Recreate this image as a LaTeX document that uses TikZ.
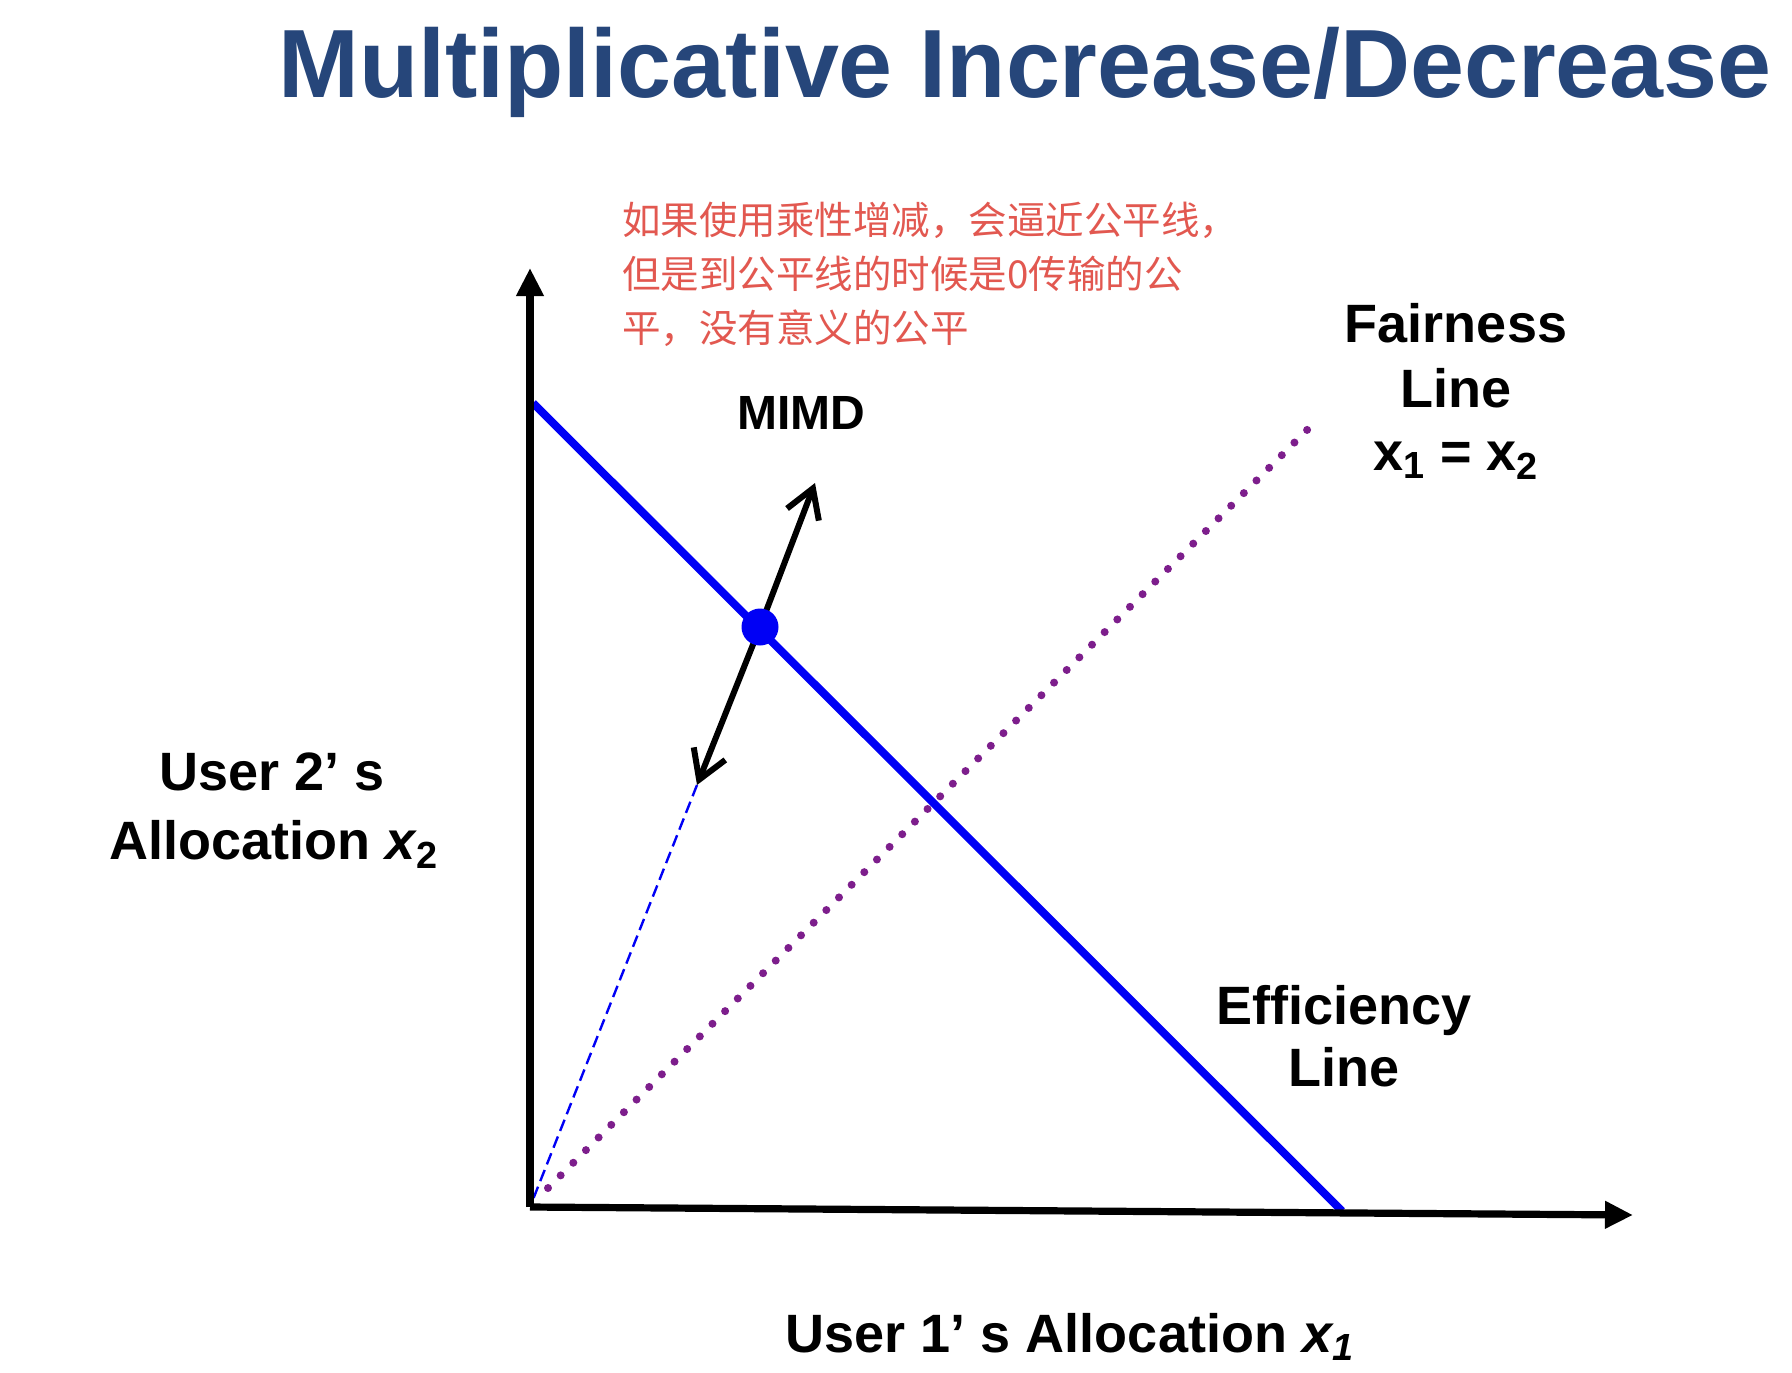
\documentclass[tikz,border=0pt]{standalone}
\usepackage{fontspec}
\setmainfont{Liberation Sans}
\newfontfamily\cjk{Noto Sans CJK SC}
\usetikzlibrary{arrows.meta}
\definecolor{titleblue}{RGB}{38,70,122}
\definecolor{notered}{RGB}{226,88,80}
\definecolor{fairpurple}{RGB}{125,30,140}
\definecolor{effblue}{RGB}{0,0,245}
\begin{document}
\begin{tikzpicture}[x=0.5pt,y=-0.5pt,
  lbl/.style={font=\fontsize{27pt}{32pt}\selectfont\bfseries, anchor=base, inner sep=0pt},
  note/.style={font=\cjk\fontsize{19.25pt}{27pt}\selectfont, text=notered, anchor=base west, inner sep=0pt},
  axisline/.style={line width=3.6pt, -{Triangle[length=14pt,width=13pt]}},
  effline/.style={line width=4pt, effblue},
  moveline/.style={line width=3pt, black, -{Straight Barb[length=14pt,width=17pt]}},
  pathline/.style={line width=1.2pt, effblue, dash pattern=on 6pt off 3pt},
  fairline/.style={line width=4pt, fairpurple, line cap=round, dash pattern=on 0pt off 8.94pt},
  dotnode/.style={circle, fill=effblue, inner sep=0pt, minimum size=18.5pt}]
\useasboundingbox (0,0) rectangle (1792,1372);
\fill[white] (0,0) rectangle (1792,1372);

% title
\node[anchor=base west, inner sep=0pt, text=titleblue,
  font=\fontsize{48.5pt}{56pt}\selectfont\bfseries] (title) at (278,97)
  {Multiplicative Increase/Decrease};

% note
\node[note] (note1) at (622,234) {如果使用乘性增减，会逼近公平线，};
\node[note] (note2) at (622,288) {但是到公平线的时候是0传输的公};
\node[note] (note3) at (622,342) {平，没有意义的公平};

% coordinates
\coordinate (O) at (530,1207);
\coordinate (ytip) at (530,268);
\coordinate (xtip) at (1633,1215);
\coordinate (effA) at (533,403);
\coordinate (effB) at (1342,1211);
\coordinate (fairA) at (548,1188);
\coordinate (fairB) at (1312,425);
\coordinate (uptip) at (815,483);
\coordinate (downtip) at (697,785);
\coordinate (dotpos) at (760,627);

% fairness line
\draw[fairline] (fairA) -- (fairB);
% dashed path to origin
\draw[pathline] (downtip) -- (O);
% efficiency line
\draw[effline] (effA) -- (effB);
% axes
\draw[axisline] (O) -- (ytip);
\draw[axisline] (O) -- (xtip);
% MIMD arrows
\draw[moveline] (dotpos) -- (uptip);
\draw[moveline] (dotpos) -- (downtip);
\node[dotnode] (dot) at (dotpos) {};

% labels
\node[lbl, font=\fontsize{24pt}{28pt}\selectfont\bfseries] (mimd) at (801,429) {MIMD};
\node[lbl] (fair1) at (1456,342) {Fairness};
\node[lbl] (fair2) at (1456,407) {Line};
\node[lbl] (fair3) at (1456,470) {x\textsubscript{1} = x\textsubscript{2}};
\node[lbl] (user2a) at (272,790) {User 2’ s};
\node[lbl] (user2b) at (274,859) {Allocation \textit{x}\textsubscript{2}};
\node[lbl] (eff1) at (1344,1024) {Efficiency};
\node[lbl] (eff2) at (1344,1086) {Line};
\node[lbl] (user1) at (1070,1352) {User 1’ s Allocation \textit{x\textsubscript{1}}};
\end{tikzpicture}
\end{document}
